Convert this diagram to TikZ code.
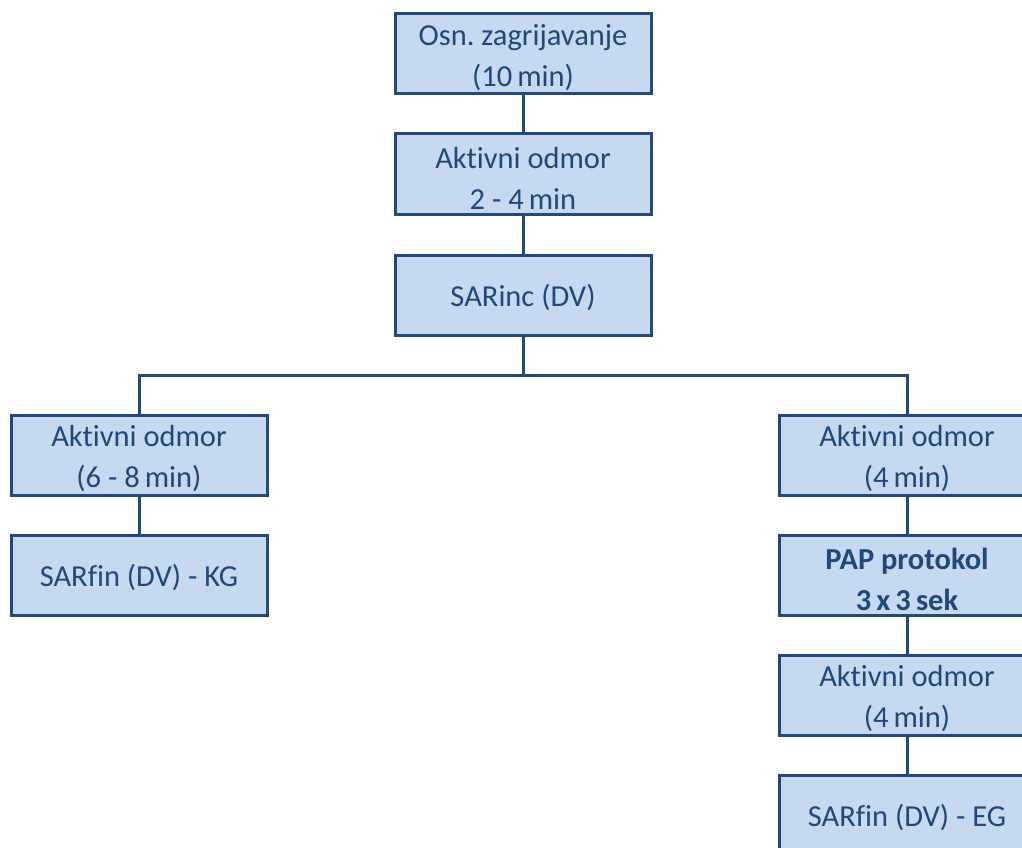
\documentclass[tikz,border=0pt]{standalone}
\usepackage{fontspec}
\setmainfont{Carlito}[RawFeature={-liga;-clig;-calt}]
\definecolor{boxfill}{HTML}{C6D9F1}
\definecolor{boxline}{HTML}{244A7C}
\definecolor{boxtext}{HTML}{1F497D}
\begin{document}
\begin{tikzpicture}[x=1pt,y=-1pt,
  stepbox/.style={draw=boxline,fill=boxfill,line width=3pt,minimum width=256pt,minimum height=80pt,
    inner sep=0pt},
  lbl/.style={inner sep=0pt,align=center,text=boxtext,font=\fontsize{30.5}{41}\selectfont,yshift=-4pt},
  lblb/.style={lbl,font=\fontsize{30.5}{41}\selectfont\bfseries},
  conn/.style={draw=boxline,line width=3pt}]
\useasboundingbox (0,0) rectangle (1022,848);
\clip (0,0) rectangle (1022,848);
\node[stepbox,label={[lbl]center:{Osn.\ zagrijavanje\\(10\,min)}}] (a) at (523,54) {};
\node[stepbox,label={[lbl]center:{Aktivni odmor\\2 - 4\,min}}] (b) at (523,174) {};
\node[stepbox,label={[lbl,yshift=2pt]center:{SARinc (DV)}}] (c) at (523,295) {};
\node[stepbox,label={[lbl]center:{Aktivni odmor\\(6 - 8\,min)}}] (l1) at (139,455) {};
\node[stepbox,label={[lbl,yshift=2pt]center:{SARfin (DV) - KG}}] (l2) at (139,575) {};
\node[stepbox,label={[lbl]center:{Aktivni odmor\\(4\,min)}}] (r1) at (907,455) {};
\node[stepbox,label={[lblb]center:{PAP protokol\\3\,x\,3\,sek}}] (r2) at (907,575) {};
\node[stepbox,label={[lbl]center:{Aktivni odmor\\(4\,min)}}] (r3) at (907,695) {};
\node[stepbox,label={[lbl,yshift=2pt]center:{SARfin (DV) - EG}}] (r4) at (907,815) {};
\coordinate (j) at (523,375);
\draw[conn] (a) -- (b);
\draw[conn] (b) -- (c);
\draw[conn] (c) -- (j);
\draw[conn,line cap=rect] (l1.north) -- (l1.north |- j) -- (r1.north |- j) -- (r1.north);
\draw[conn] (l1) -- (l2);
\draw[conn] (r1) -- (r2);
\draw[conn] (r2) -- (r3);
\draw[conn] (r3) -- (r4);
\end{tikzpicture}
\end{document}
